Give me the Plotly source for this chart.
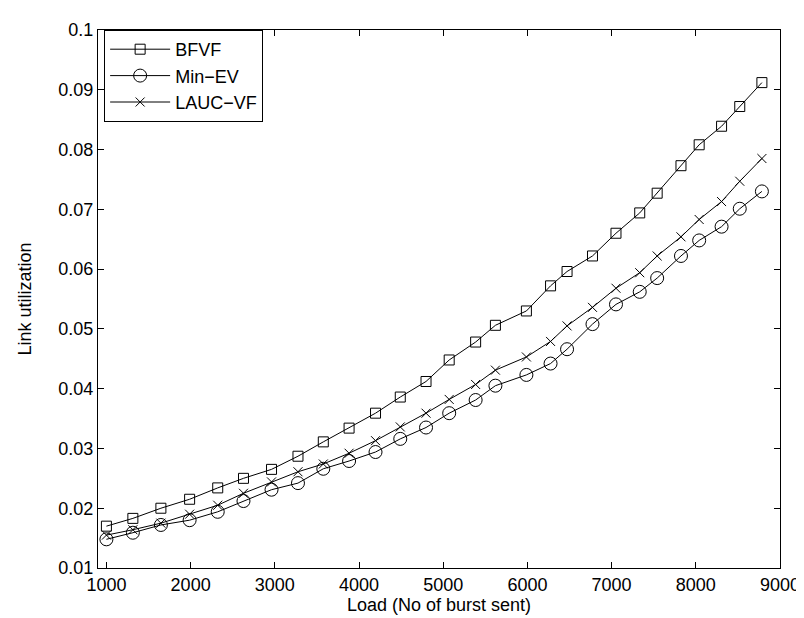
import plotly.graph_objects as go

load = [1000, 1314, 1647, 1988, 2322, 2628, 2961, 3275, 3576, 3882, 4196, 4490, 4796, 5071,
        5385, 5620, 5988, 6275, 6471, 6773, 7052, 7334, 7541, 7824, 8040, 8306, 8522, 8785]
bfvf = [0.0170, 0.0183, 0.0200, 0.0215, 0.0234, 0.0250, 0.0265, 0.0287, 0.0311, 0.0334, 0.0359,
        0.0386, 0.0412, 0.0448, 0.0478, 0.0506, 0.0530, 0.0572, 0.0596, 0.0622, 0.0660, 0.0694,
        0.0727, 0.0773, 0.0808, 0.0839, 0.0872, 0.0912]
min_ev = [0.0148, 0.0159, 0.0172, 0.0180, 0.0194, 0.0212, 0.0231, 0.0242, 0.0266, 0.0279, 0.0294,
          0.0316, 0.0335, 0.0359, 0.0381, 0.0405, 0.0423, 0.0442, 0.0466, 0.0508, 0.0541, 0.0562,
          0.0585, 0.0622, 0.0648, 0.0671, 0.0701, 0.0730]
lauc_vf = [0.0155, 0.0164, 0.0175, 0.0190, 0.0205, 0.0225, 0.0244, 0.0261, 0.0274, 0.0292, 0.0313,
           0.0336, 0.0359, 0.0382, 0.0407, 0.0431, 0.0453, 0.0479, 0.0505, 0.0536, 0.0568, 0.0594,
           0.0622, 0.0654, 0.0683, 0.0713, 0.0747, 0.0785]

x_ticks = [1000, 2000, 3000, 4000, 5000, 6000, 7000, 8000, 9000]
y_ticks = [0.01, 0.02, 0.03, 0.04, 0.05, 0.06, 0.07, 0.08, 0.09, 0.1]
y_tick_text = ["0.01", "0.02", "0.03", "0.04", "0.05", "0.06", "0.07", "0.08", "0.09", "0.1"]

FONT = "Liberation Sans, Arial, sans-serif"
FS = 18

fig = go.Figure()
series = [
    ("BFVF", bfvf, "square-open", 10),
    ("Min\u2212EV", min_ev, "circle-open", 13),
    ("LAUC\u2212VF", lauc_vf, "x-thin-open", 9),
]
for name, ys, sym, size in series:
    fig.add_trace(go.Scatter(
        x=load, y=ys, name=name, mode="lines+markers",
        line=dict(color="black", width=1),
        marker=dict(symbol=sym, size=size, color="black", line=dict(color="black", width=1)),
    ))

axis_common = dict(
    showline=True, linecolor="black", linewidth=1, mirror="ticks",
    ticks="inside", ticklen=6, tickcolor="black", showgrid=False, zeroline=False,
    tickfont=dict(family=FONT, size=FS, color="black"),
)
fig.update_xaxes(range=[900, 9000], tickvals=x_ticks,
                 title=dict(text="Load (No of burst sent)", font=dict(family=FONT, size=FS, color="black"), standoff=0),
                 **axis_common)
fig.update_yaxes(range=[0.01, 0.1], tickvals=y_ticks, ticktext=y_tick_text,
                 title=dict(text="Link utilization", font=dict(family=FONT, size=FS, color="black"), standoff=22),
                 **axis_common)

fig.update_layout(
    width=804, height=618,
    margin=dict(l=90, r=26, t=18, b=58),
    paper_bgcolor="white", plot_bgcolor="white",
    font=dict(family=FONT, size=FS, color="black"),
    legend=dict(x=0.009, y=1.0, xanchor="left", yanchor="top",
                bordercolor="black", borderwidth=1, bgcolor="white",
                font=dict(family=FONT, size=FS, color="black"),
                itemwidth=60, tracegroupgap=0),
    showlegend=True,
)

fig.write_html("out.html")
